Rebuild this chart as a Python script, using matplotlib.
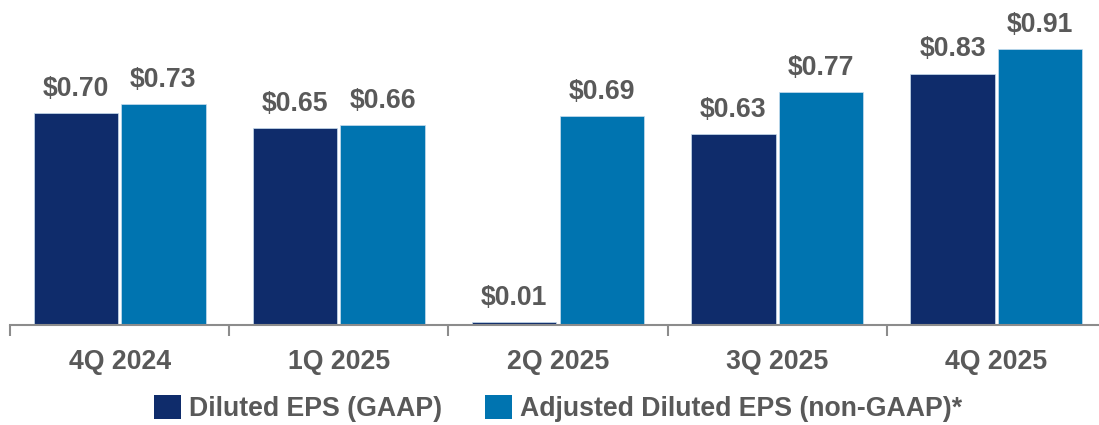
import matplotlib
matplotlib.use('Agg')
import matplotlib.pyplot as plt
import numpy as np
from matplotlib.patches import Patch

# Data
quarters = ['4Q 2024', '1Q 2025', '2Q 2025', '3Q 2025', '4Q 2025']
gaap_eps = [0.70, 0.65, 0.01, 0.63, 0.83]
adj_eps = [0.73, 0.66, 0.69, 0.77, 0.91]
series_names = ['Diluted EPS (GAAP)', 'Adjusted Diluted EPS (non-GAAP)*']

DARK = '#0F2C6B'
LIGHT = '#0074B0'
TEXT = '#595959'
AXIS = '#8C8C8C'
FS = 19.2

plt.rcParams['font.family'] = ['Liberation Sans', 'DejaVu Sans']
plt.rcParams['font.weight'] = 'bold'

fig = plt.figure(figsize=(10.99, 4.25), dpi=100)
ax = fig.add_axes([10 / 1099, 100 / 425, 1096 / 1099, 325 / 425])

x = np.arange(len(quarters))
width = 0.385
bars1 = ax.bar(x - 0.2, gaap_eps, width, color=DARK, edgecolor='#C9DDEE', linewidth=0.5)
bars2 = ax.bar(x + 0.2, adj_eps, width, color=LIGHT, edgecolor='#C9DDEE', linewidth=0.5)

for bars in [bars1, bars2]:
    for bar in bars:
        h = bar.get_height()
        ax.annotate(f'${h:.2f}', xy=(bar.get_x() + bar.get_width() / 2, h),
                    xytext=(0, 8), textcoords='offset points',
                    ha='center', va='bottom', fontsize=FS, color=TEXT, fontweight='bold')

ax.set_xlim(-0.5, len(quarters) - 0.5)
ax.set_ylim(0, 325 / 303)

ax.set_xticks(x)
ax.set_xticklabels(quarters, fontsize=FS, color=TEXT, fontweight='bold')
ax.tick_params(axis='x', which='major', length=0, pad=17)
ax.set_xticks(np.arange(len(quarters) + 1) - 0.5, minor=True)
ax.tick_params(axis='x', which='minor', length=8, width=1.5, color=AXIS)
ax.set_yticks([])

for s in ['top', 'right', 'left']:
    ax.spines[s].set_visible(False)
ax.spines['bottom'].set_color(AXIS)
ax.spines['bottom'].set_linewidth(1.5)

handles = [Patch(facecolor=DARK), Patch(facecolor=LIGHT)]
leg = fig.legend(handles, series_names, loc='center', bbox_to_anchor=(558 / 1099, 16.5 / 425),
                 ncol=2, frameon=False, fontsize=FS, handlelength=1.0, handleheight=1.0,
                 handletextpad=0.3, columnspacing=1.6, borderpad=0)
for t in leg.get_texts():
    t.set_color(TEXT)
    t.set_fontweight('bold')

fig.savefig('out.png', dpi=100)
